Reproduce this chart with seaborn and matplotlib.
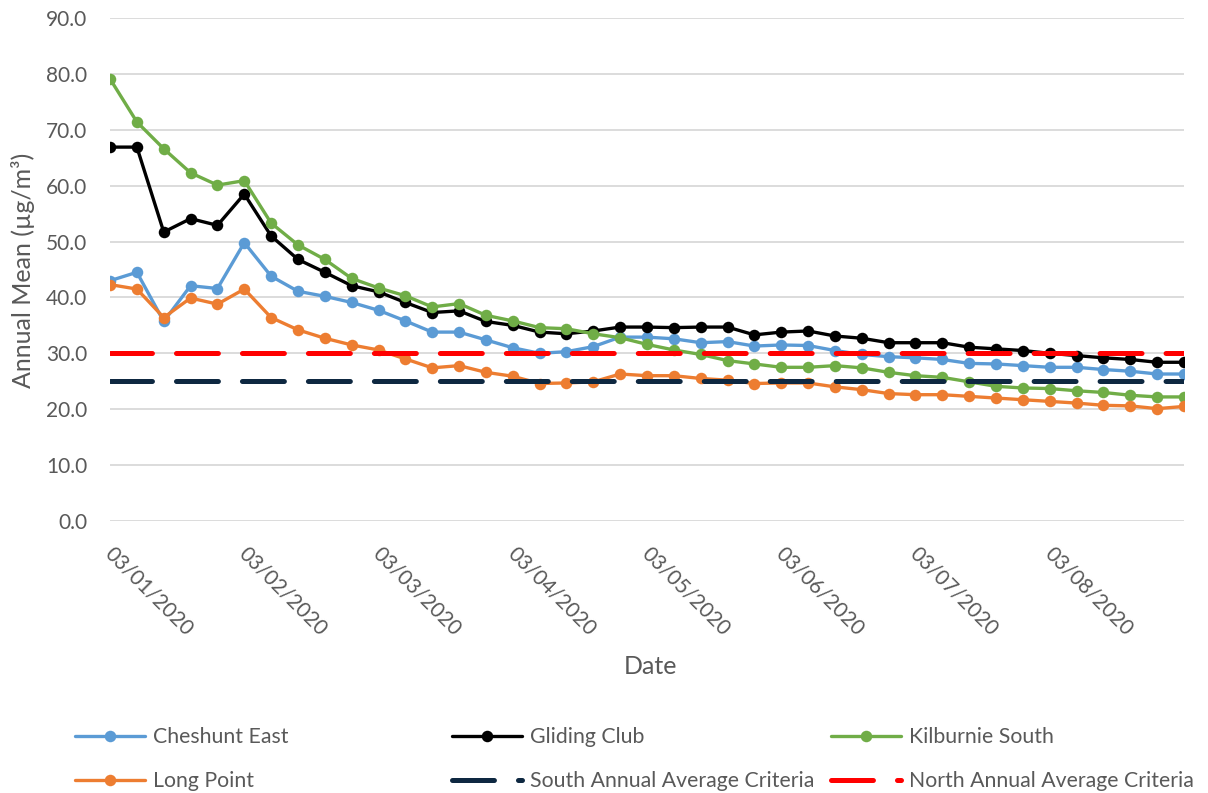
import numpy as np
import pandas as pd
import matplotlib
matplotlib.use("Agg")
import matplotlib.pyplot as plt
from matplotlib.lines import Line2D
import matplotlib.transforms as mtransforms
import seaborn as sns

# ---- data -------------------------------------------------------------
date_labels = ["03/01/2020", "03/02/2020", "03/03/2020", "03/04/2020",
               "03/05/2020", "03/06/2020", "03/07/2020", "03/08/2020"]
label_every = 5

cheshunt_east = [43.0, 44.5, 35.7, 42.1, 41.6, 49.8, 43.8, 41.1, 40.2, 39.1,
                 37.7, 35.8, 33.8, 33.8, 32.4, 31.0, 30.0, 30.3, 31.2, 32.9,
                 32.9, 32.6, 31.9, 32.1, 31.3, 31.5, 31.4, 30.5, 29.8, 29.4,
                 29.2, 28.9, 28.2, 28.1, 27.8, 27.5, 27.5, 27.1, 26.8, 26.3,
                 26.3]
gliding_club = [66.9, 66.9, 51.7, 54.1, 52.9, 58.5, 51.0, 46.8, 44.5, 42.1,
                41.0, 39.1, 37.3, 37.6, 35.7, 35.0, 33.8, 33.5, 34.0, 34.7,
                34.7, 34.6, 34.7, 34.7, 33.3, 33.8, 34.0, 33.1, 32.7, 31.9,
                31.9, 31.9, 31.1, 30.8, 30.5, 30.0, 29.6, 29.2, 28.9, 28.4,
                28.4]
kilburnie_south = [79.1, 71.4, 66.6, 62.3, 60.1, 60.9, 53.3, 49.4, 46.8, 43.4,
                   41.7, 40.3, 38.3, 38.9, 36.8, 35.8, 34.6, 34.4, 33.5, 32.8,
                   31.6, 30.6, 29.8, 28.7, 28.1, 27.5, 27.5, 27.8, 27.4, 26.6,
                   26.0, 25.7, 24.9, 24.1, 23.8, 23.7, 23.3, 23.0, 22.5, 22.2,
                   22.2]
long_point = [42.3, 41.5, 36.4, 39.9, 38.8, 41.5, 36.4, 34.2, 32.7, 31.5,
              30.6, 29.0, 27.4, 27.8, 26.6, 25.9, 24.6, 24.7, 24.9, 26.3,
              26.0, 26.0, 25.5, 25.2, 24.6, 24.7, 24.7, 24.0, 23.5, 22.8,
              22.6, 22.6, 22.3, 22.0, 21.7, 21.4, 21.1, 20.7, 20.6, 20.1,
              20.5]
south_criteria = 25.0
north_criteria = 30.0

n = len(cheshunt_east)
idx = np.arange(n)
df = pd.DataFrame({
    "idx": idx,
    "Cheshunt East": cheshunt_east,
    "Gliding Club": gliding_club,
    "Kilburnie South": kilburnie_south,
    "Long Point": long_point,
    "South Annual Average Criteria": np.full(n, south_criteria),
    "North Annual Average Criteria": np.full(n, north_criteria),
})

# ---- style ------------------------------------------------------------
sns.set_theme(style="white")
plt.rcParams["font.family"] = ["Lato", "DejaVu Sans"]
plt.rcParams["lines.scale_dashes"] = False

text_gray = "#595959"
grid_gray = "#D9D9D9"
station_colors = {
    "Cheshunt East": "#5B9BD5",
    "Gliding Club": "#000000",
    "Kilburnie South": "#70AD47",
    "Long Point": "#ED7D31",
}
criteria_colors = {
    "South Annual Average Criteria": "#0E2841",
    "North Annual Average Criteria": "#FF0000",
}
series_lw = 2.4
marker_size = 8.3
crit_lw = 3.6
crit_dash = (0, (30.2, 17.3))

fig = plt.figure(figsize=(12.08, 7.93), dpi=100)
ax = fig.add_axes([0.0911, 0.3430, 0.8890, 0.6343])

for name, color in station_colors.items():
    sns.lineplot(data=df, x="idx", y=name, ax=ax, color=color,
                 linewidth=series_lw, marker="o", markersize=marker_size,
                 markeredgewidth=0, errorbar=None, legend=False)
for name, color in criteria_colors.items():
    sns.lineplot(data=df, x="idx", y=name, ax=ax, color=color,
                 linewidth=crit_lw, linestyle=crit_dash,
                 dash_capstyle="round", errorbar=None, legend=False)

# ---- axes -------------------------------------------------------------
ax.set_xlim(0, n - 1)
ax.set_ylim(0, 90)
ax.set_yticks(np.arange(0, 91, 10))
ax.set_yticklabels([f"{v:.1f}" for v in np.arange(0, 91, 10)])
ax.set_xticks(np.arange(0, n, label_every)[:len(date_labels)])
ax.set_xticklabels(date_labels)
ax.set_xlabel("")
ax.set_ylabel("")
ax.grid(axis="y", color=grid_gray, linewidth=1.3)
ax.grid(axis="x", visible=False)
ax.set_axisbelow(True)
for sp in ax.spines.values():
    sp.set_visible(False)

ax.tick_params(axis="y", length=0, pad=16.5, labelsize=15, labelcolor=text_gray)
ax.tick_params(axis="x", length=0, pad=16, labelsize=15, labelcolor=text_gray)
shift = mtransforms.ScaledTranslation(5 / 100, 0, fig.dpi_scale_trans)
for lab in ax.get_xticklabels():
    lab.set_rotation(-45)
    lab.set_ha("left")
    lab.set_va("top")
    lab.set_rotation_mode("anchor")
    lab.set_transform(lab.get_transform() + shift)

fig.text(650 / 1208, 1 - 666 / 793, "Date", ha="center", va="center",
         fontsize=18, color=text_gray)
fig.text(23 / 1208, 1 - 270 / 793, "Annual Mean (µg/m³)", ha="center",
         va="center", rotation=90, fontsize=18, color=text_gray)

# ---- legend (three columns of two rows) --------------------------------
def station_handle(name):
    return Line2D([], [], color=station_colors[name], linewidth=series_lw,
                  marker="o", markersize=marker_size, markeredgewidth=0)


def criteria_handle(name):
    return Line2D([], [], color=criteria_colors[name], linewidth=crit_lw,
                  linestyle=crit_dash, dash_capstyle="round")


columns = [
    (75, [("Cheshunt East", station_handle), ("Long Point", station_handle)]),
    (452, [("Gliding Club", station_handle),
           ("South Annual Average Criteria", criteria_handle)]),
    (831, [("Kilburnie South", station_handle),
           ("North Annual Average Criteria", criteria_handle)]),
]
for x_px, entries in columns:
    handles = [maker(name) for name, maker in entries]
    labels = [name for name, _ in entries]
    fig.legend(handles, labels, loc="center left",
               bbox_to_anchor=(x_px / 1208, 1 - 759 / 793),
               frameon=False, fontsize=15.3, handlelength=3.3,
               handletextpad=0.38, borderpad=0, borderaxespad=0,
               labelspacing=1.13, labelcolor=text_gray)

fig.savefig("out.png", dpi=100)
